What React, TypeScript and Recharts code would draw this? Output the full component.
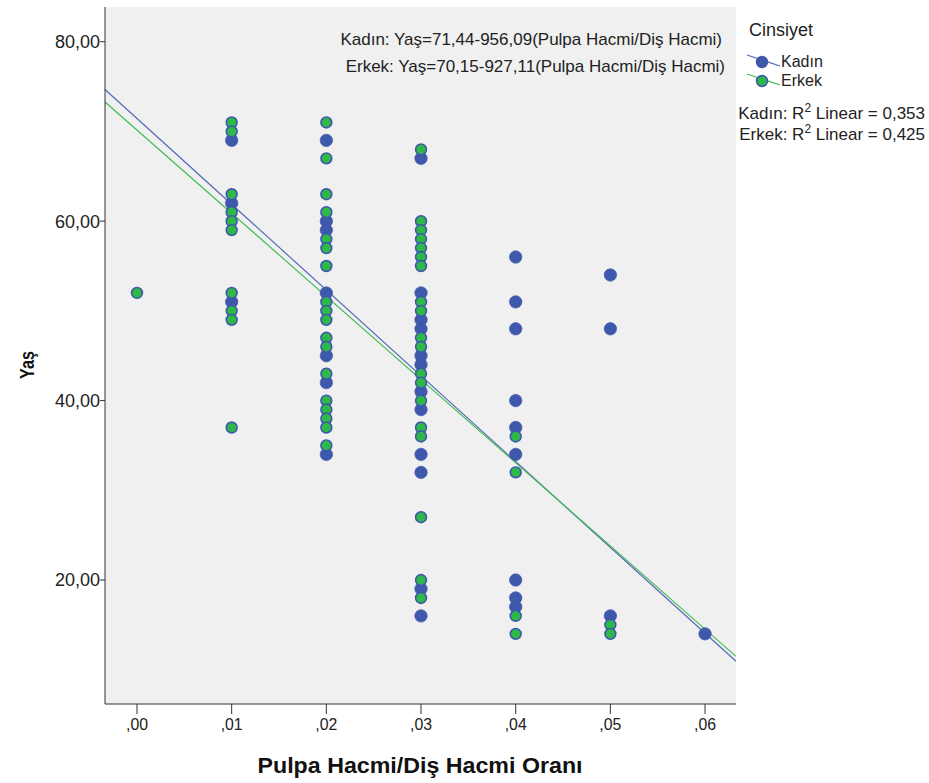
import React from 'react';
import { ScatterChart, Scatter, XAxis, YAxis, CartesianGrid, ReferenceLine } from 'recharts';

// Pulpa/Diş hacmi oranı -> yaş değerleri, cinsiyete göre
const kadinByRatio: [number, number[]][] = [
  [0.01, [69, 62, 51]],
  [0.02, [69, 60, 59, 52, 45, 42, 34]],
  [0.03, [67, 52, 49, 48, 45, 44, 41, 39, 34, 32, 19, 16]],
  [0.04, [56, 51, 48, 40, 37, 34, 20, 18, 17]],
  [0.05, [54, 48, 16]],
  [0.06, [14]],
];

const erkekByRatio: [number, number[]][] = [
  [0.0, [52]],
  [0.01, [71, 70, 63, 61, 60, 59, 52, 50, 49, 37]],
  [0.02, [71, 67, 63, 61, 58, 57, 55, 51, 50, 49, 47, 46, 43, 40, 39, 38, 37, 35]],
  [0.03, [68, 60, 59, 58, 57, 56, 55, 51, 50, 47, 46, 43, 42, 40, 37, 36, 27, 20, 18]],
  [0.04, [36, 32, 16, 14]],
  [0.05, [15, 14]],
];

const xTicks = [0, 0.01, 0.02, 0.03, 0.04, 0.05, 0.06];
const yTicks = [20, 40, 60, 80];
const xDomain: [number, number] = [-0.00338, 0.06327];
const yDomain: [number, number] = [6.18, 83.87];

// regresyon katsayıları (sabit, eğim)
const kadinFit = [71.44, -956.09];
const erkekFit = [70.15, -927.11];

const BLUE = '#3E58AC';
const GREEN = '#2EB848';
const FONT = "'Liberation Sans', Arial, sans-serif";

const flatten = (rows: [number, number[]][]) =>
  rows.flatMap(([x, ages]) => ages.map((y) => ({ x, y })));

const fitSegment = (fit: number[]) =>
  xDomain.map((x) => ({ x, y: fit[0] + fit[1] * x }));

const fmtX = (v: number) => ',' + v.toFixed(2).split('.')[1];
const fmtY = (v: number) => v.toFixed(2).replace('.', ',');

const BlueDot = (p: any) => <circle cx={p.cx} cy={p.cy} r={6.2} fill={BLUE} stroke={BLUE} strokeOpacity={0.7} strokeWidth={1} />;
const GreenDot = (p: any) => <circle cx={p.cx} cy={p.cy} r={5.4} fill={GREEN} stroke={BLUE} strokeWidth={1.6} />;

// dar yazı tipi yoksa, SPSS'teki sıkışık etiketleri textLength ile taklit et
const NarrowTick = (p: any) => {
  const label = fmtX(p.payload.value);
  return (
    <text x={p.x} y={p.y + 12} textAnchor="middle" fontSize={17} fontFamily={FONT} fill="#222" textLength={22} lengthAdjust="spacingAndGlyphs">
      {label}
    </text>
  );
};

export default function App() {
  return (
    <div style={{ position: 'absolute', left: 0, top: 0, width: 929, height: 783, background: '#fff' }}>
      <ScatterChart width={929} height={783} margin={{ top: 7, right: 193, bottom: 0, left: 0 }}>
        <CartesianGrid horizontal={false} vertical={false} fill="#F0F0F0" />
        <XAxis
          type="number"
          dataKey="x"
          domain={xDomain}
          ticks={xTicks}
          allowDataOverflow
          height={79}
          tickSize={10}
          tickMargin={4}
          stroke="#333"
          tick={<NarrowTick />}
        />
        <XAxis xAxisId="top" orientation="top" type="number" domain={xDomain} height={0} tick={false} tickLine={false} stroke="#333" allowDataOverflow />
        <YAxis
          type="number"
          dataKey="y"
          domain={yDomain}
          ticks={yTicks}
          allowDataOverflow
          tickFormatter={fmtY}
          width={105}
          tickSize={5}
          tickMargin={0}
          stroke="#333"
          tick={{ fill: '#222', fontSize: 18, fontFamily: FONT }}
        />
        <YAxis yAxisId="right" orientation="right" type="number" domain={yDomain} width={0} tick={false} tickLine={false} stroke="#333" allowDataOverflow />
        <Scatter name="Kadın" data={flatten(kadinByRatio)} shape={BlueDot} isAnimationActive={false} />
        <Scatter name="Erkek" data={flatten(erkekByRatio)} shape={GreenDot} isAnimationActive={false} />
        <ReferenceLine segment={fitSegment(kadinFit)} stroke="#5468BA" strokeWidth={1.2} />
        <ReferenceLine segment={fitSegment(erkekFit)} stroke="#42BE55" strokeWidth={1.2} />

        <text x={722} y={45} textAnchor="end" fontSize={17} fontFamily={FONT} fill="#222">
          Kadın: Yaş=71,44-956,09(Pulpa Hacmi/Diş Hacmi)
        </text>
        <text x={725} y={72} textAnchor="end" fontSize={17} fontFamily={FONT} fill="#222">
          Erkek: Yaş=70,15-927,11(Pulpa Hacmi/Diş Hacmi)
        </text>

        <text x={26} y={365} textAnchor="middle" dominantBaseline="central" fontSize={21} fontWeight="bold" fontFamily={FONT} fill="#111" transform="rotate(-90 26 365)" textLength={28} lengthAdjust="spacingAndGlyphs">
          Yaş
        </text>
        <text x={420} y={773} textAnchor="middle" fontSize={22} fontWeight="bold" fontFamily={FONT} fill="#111" textLength={325} lengthAdjust="spacingAndGlyphs">
          Pulpa Hacmi/Diş Hacmi Oranı
        </text>

        <text x={749} y={36} fontSize={18} fontFamily={FONT} fill="#222">Cinsiyet</text>
        <line x1={747} y1={55} x2={780} y2={66} stroke="#5468BA" strokeWidth={1.2} />
        <circle cx={762} cy={62} r={6.2} fill={BLUE} />
        <text x={781} y={67} fontSize={16} fontFamily={FONT} fill="#222">Kadın</text>
        <line x1={747} y1={74} x2={780} y2={85} stroke="#42BE55" strokeWidth={1.2} />
        <circle cx={762} cy={81} r={5.4} fill={GREEN} stroke={BLUE} strokeWidth={1.6} />
        <text x={781} y={86} fontSize={16} fontFamily={FONT} fill="#222">Erkek</text>

        <text x={925} y={119} textAnchor="end" fontSize={17} fontFamily={FONT} fill="#222">
          Kadın: R<tspan dy={-7} fontSize={12}>2</tspan><tspan dy={7}> Linear = 0,353</tspan>
        </text>
        <text x={925} y={140} textAnchor="end" fontSize={17} fontFamily={FONT} fill="#222">
          Erkek: R<tspan dy={-7} fontSize={12}>2</tspan><tspan dy={7}> Linear = 0,425</tspan>
        </text>
      </ScatterChart>
    </div>
  );
}
